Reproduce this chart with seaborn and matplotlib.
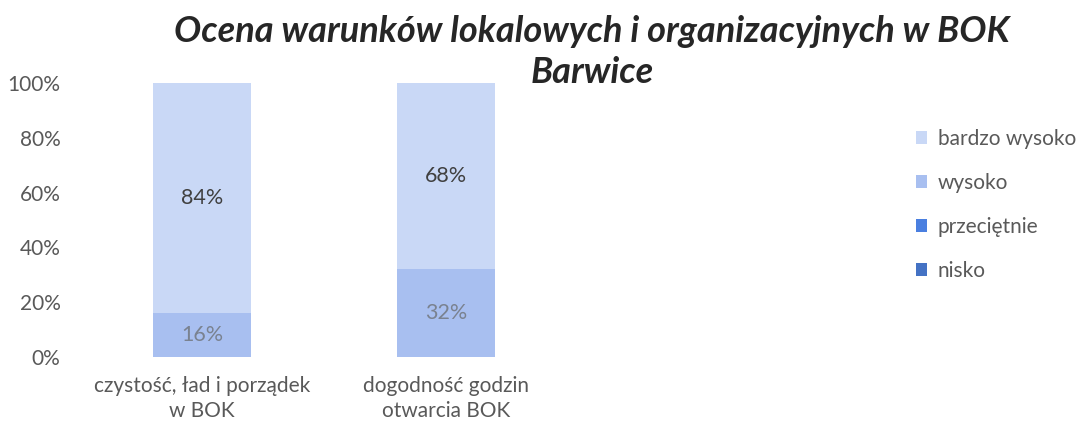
import matplotlib
matplotlib.use("Agg")
import matplotlib.pyplot as plt
from matplotlib.patches import Patch
import seaborn as sns
import pandas as pd

categories = ["czystość, ład i porządek\nw BOK", "dogodność godzin\notwarcia BOK"]
bardzo_wysoko = [84, 68]
wysoko = [16, 32]
przecietnie = [0, 0]
nisko = [0, 0]
y_ticks = [0, 20, 40, 60, 80, 100]
title = "Ocena warunków lokalowych i organizacyjnych w BOK\nBarwice"

series = [
    ("nisko", nisko, "#4472c4"),
    ("przeciętnie", przecietnie, "#4a7fe0"),
    ("wysoko", wysoko, "#a8bff0"),
    ("bardzo wysoko", bardzo_wysoko, "#c9d8f6"),
]

sns.set_theme(style="white")
plt.rcParams["font.family"] = ["Lato", "DejaVu Sans"]

fig = plt.figure(figsize=(10.86, 4.32), dpi=100)
ax = fig.add_axes([80 / 1086, 75 / 432, 488 / 1086, 274 / 432])

# cumulative tops, drawn from the tallest layer down so each segment shows
tops = []
running = [0] * len(categories)
for name, vals, color in series:
    running = [r + v for r, v in zip(running, vals)]
    tops.append((name, list(running), vals, color))

for name, top, vals, color in reversed(tops):
    df = pd.DataFrame({"cat": categories, "val": top})
    sns.barplot(data=df, x="cat", y="val", color=color, width=0.4,
                saturation=1, ax=ax, order=categories, errorbar=None,
                linewidth=0)

# value labels in the middle of each non-empty segment
label_colors = {"bardzo wysoko": "#404040", "wysoko": "#7a8290"}
for name, top, vals, color in tops:
    for i, (t, v) in enumerate(zip(top, vals)):
        if v > 0:
            ax.text(i, t - v / 2, f"{v}%", ha="center", va="center",
                    fontsize=15.5, color=label_colors.get(name, "#404040"))

ax.set_xlim(-0.5, 1.5)
ax.set_ylim(0, 100)
ax.set_yticks(y_ticks)
ax.set_yticklabels([f"{t}%" for t in y_ticks])
ax.set_xlabel("")
ax.set_ylabel("")
ax.tick_params(axis="y", length=0, pad=14, labelsize=15, labelcolor="#595959")
ax.tick_params(axis="x", length=0, pad=14, labelsize=15, labelcolor="#595959")
for lbl in ax.get_xticklabels():
    lbl.set_linespacing(1.3)
sns.despine(ax=ax, left=True, bottom=True)

handles = [Patch(facecolor=c, edgecolor="none", label=n) for n, v, c in reversed(series)]
fig.legend(handles=handles, loc="upper left", bbox_to_anchor=(897 / 1086, 1 - 110 / 432),
           frameon=False, fontsize=15, labelcolor="#595959",
           handlelength=0.55, handleheight=0.55, handletextpad=0.5,
           labelspacing=1.15)

fig.text(592 / 1086, 1 - 52 / 432, title, ha="center", va="center",
         fontsize=26, fontweight="bold", fontstyle="italic", color="#262626",
         linespacing=1.32)

fig.savefig("out.png", dpi=100)
